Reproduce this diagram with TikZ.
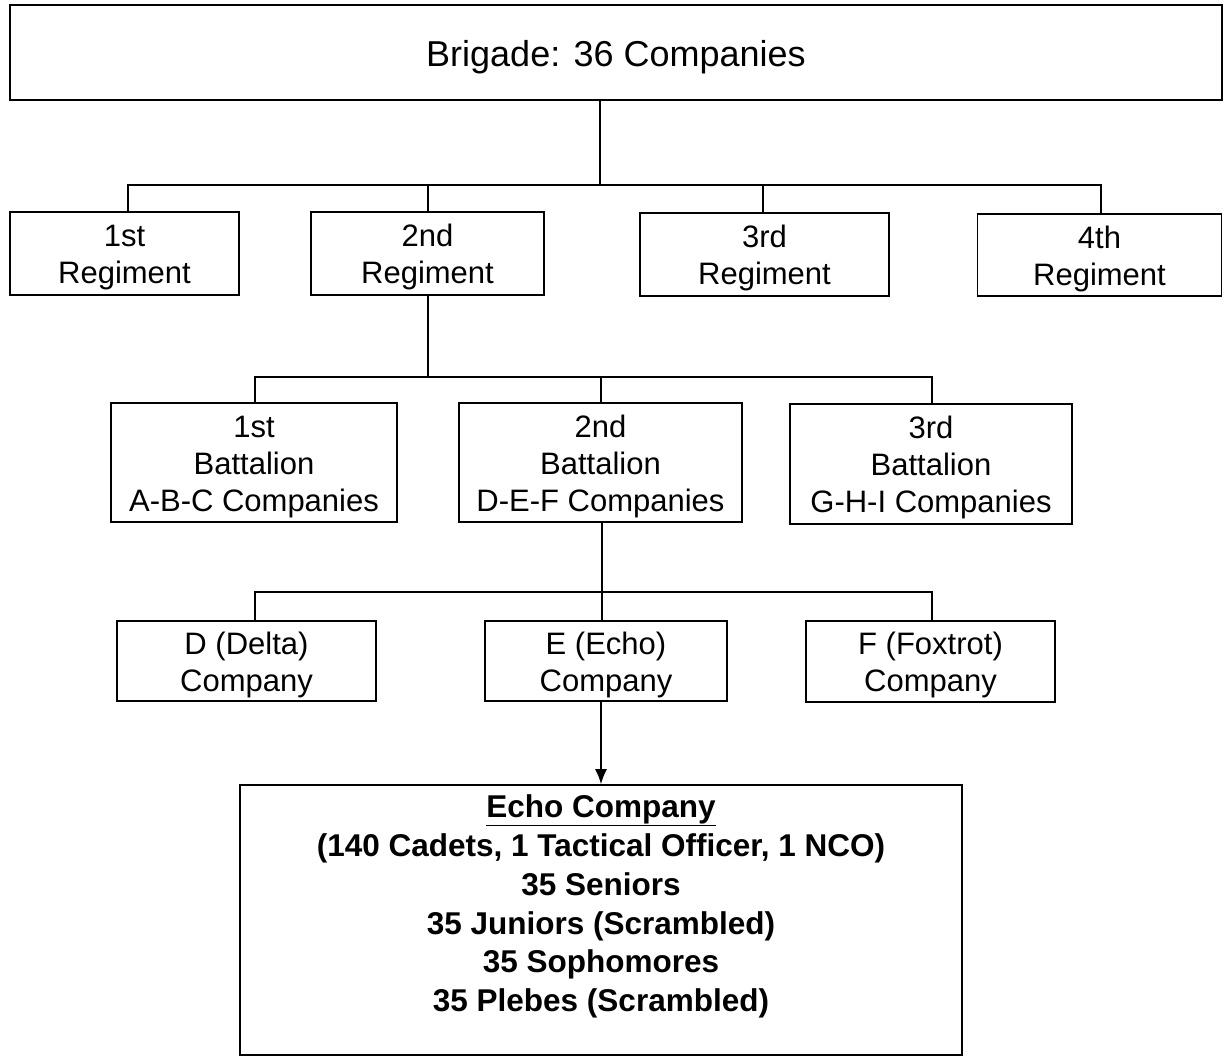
\documentclass[tikz,border=0pt]{standalone}
\usepackage{fontspec}
\setmainfont{Liberation Sans}
\usetikzlibrary{arrows.meta}
\newcommand\firstln{\rule{0pt}{0.98em}}
\begin{document}
\begin{tikzpicture}[x=1pt,y=-1pt,
  box/.style={draw, line width=1.6pt, align=center, inner sep=0pt, font=\fontsize{31}{37}\selectfont},
  conn/.style={line width=1.6pt},
  arr/.style={line width=1.6pt, -{Latex[length=15pt,width=12pt]}}]
\useasboundingbox (0,0) rectangle (1224,1057);
% top
\node[box, minimum width=1212pt, minimum height=95pt, font=\fontsize{36}{43}\selectfont] (brig) at (616,52.5) {\firstln Brigade: 36 Companies};
% regiments
\node[box, minimum width=229pt, minimum height=83pt] (r1) at (124.5,253.5) {\firstln 1st\\Regiment};
\node[box, minimum width=233pt, minimum height=83pt] (r2) at (427.5,253.5) {\firstln 2nd\\Regiment};
\node[box, minimum width=249pt, minimum height=83pt] (r3) at (764.5,254.5) {\firstln 3rd\\Regiment};
\node[box, minimum width=244pt, minimum height=82pt] (r4) at (1099.5,255) {\firstln 4th\\Regiment};
% battalions
\node[box, minimum width=286pt, minimum height=119pt] (b1) at (254,462.5) {\firstln 1st\\Battalion\\A-B-C Companies};
\node[box, minimum width=283pt, minimum height=119pt] (b2) at (600.5,462.5) {\firstln 2nd\\Battalion\\D-E-F Companies};
\node[box, minimum width=282pt, minimum height=120pt] (b3) at (931,464) {\firstln 3rd\\Battalion\\G-H-I Companies};
% companies
\node[box, minimum width=259pt, minimum height=80pt] (c1) at (246.5,661) {\firstln D (Delta)\\Company};
\node[box, minimum width=242pt, minimum height=80pt] (c2) at (606,661) {\firstln E (Echo)\\Company};
\node[box, minimum width=249pt, minimum height=81pt] (c3) at (930.5,661.5) {\firstln F (Foxtrot)\\Company};
% echo
\node[draw, line width=1.6pt, minimum width=722pt, minimum height=270pt] (echo) at (601,920) {};
\node[align=center, inner sep=0pt, font=\fontsize{31.5}{38.8}\selectfont\bfseries] (echotext) at (601,906.5)
  {\underline{Echo Company}\\(140 Cadets, 1 Tactical Officer, 1 NCO)\\35 Seniors\\35 Juniors (Scrambled)\\35 Sophomores\\35 Plebes (Scrambled)};
% level 1 connectors
\coordinate (a0) at (600,185);
\coordinate (a1) at (128,185);
\coordinate (a2) at (428,185);
\coordinate (a3) at (763,185);
\coordinate (a4) at (1101,185);
\draw[conn] (brig.south -| a0) -- (a0);
\draw[conn] (a1 |- r1.north) -- (a1) -- (a4) -- (a4 |- r4.north);
\draw[conn] (a2) -- (a2 |- r2.north);
\draw[conn] (a3) -- (a3 |- r3.north);
% level 2 connectors
\coordinate (bb0) at (428,377);
\coordinate (bb1) at (255,377);
\coordinate (bb2) at (601,377);
\coordinate (bb3) at (932,377);
\draw[conn] (r2.south -| bb0) -- (bb0);
\draw[conn] (bb1 |- b1.north) -- (bb1) -- (bb3) -- (bb3 |- b3.north);
\draw[conn] (bb2) -- (bb2 |- b2.north);
% level 3 connectors
\coordinate (k0) at (602,592);
\coordinate (k1) at (255,592);
\coordinate (k3) at (932,592);
\draw[conn] (b2.south -| k0) -- (k0 |- c2.north);
\draw[conn] (k1 |- c1.north) -- (k1) -- (k3) -- (k3 |- c3.north);
% arrow
\coordinate (d0) at (601,0);
\draw[arr] (c2.south -| d0) -- (echo.north -| d0);
\end{tikzpicture}
\end{document}
